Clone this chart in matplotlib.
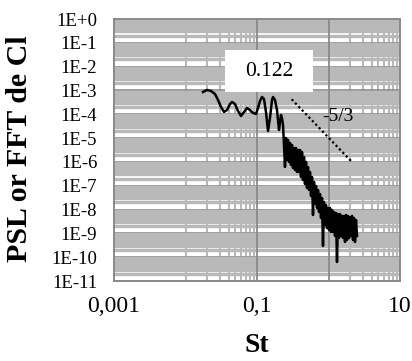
import matplotlib
matplotlib.use("Agg")
import matplotlib.pyplot as plt
from matplotlib.patches import Rectangle
from matplotlib.ticker import NullFormatter

# spectrum (St, PSD)
st = [0.01757, 0.0200, 0.02273, 0.02586, 0.02849, 0.03138, 0.03455, 0.03806, 0.04193,
      0.04471, 0.04925, 0.05424, 0.05974, 0.06579, 0.07247, 0.07982, 0.08791, 0.09683,
      0.1033, 0.1101, 0.1175, 0.1253, 0.1336, 0.1425, 0.1520, 0.1621, 0.1674, 0.1786,
      0.1904, 0.2031, 0.2098, 0.2166, 0.2237, 0.2311,
      0.2386, 0.2464, 0.2545, 0.2628, 0.2714, 0.2803, 0.2895, 0.2989, 0.3087, 0.3188,
      0.3293, 0.3400, 0.3512, 0.3627, 0.3745, 0.3868, 0.3994, 0.4125, 0.4260, 0.4399,
      0.4543, 0.4692, 0.4845, 0.5004, 0.5168, 0.5337, 0.5511, 0.5692, 0.5878, 0.6070,
      0.6269, 0.6474, 0.6686, 0.6905, 0.7131, 0.7364, 0.7605, 0.7854, 0.8111, 0.8376,
      0.8650, 0.8934, 0.9226, 0.9528, 0.9840, 1.016, 1.049, 1.084, 1.119, 1.156,
      1.194, 1.233, 1.273, 1.315, 1.358, 1.402, 1.448, 1.496, 1.545, 1.595,
      1.647, 1.702, 1.757, 1.815, 1.874, 1.936, 1.999, 2.064, 2.132, 2.202,
      2.274, 2.348, 2.425, 2.505]
psd = [8.62e-4, 1.05e-3, 9.49e-4, 7.10e-4, 3.98e-4, 2.02e-4, 1.25e-4, 1.51e-4, 2.70e-4,
       3.28e-4, 2.70e-4, 1.37e-4, 8.47e-5, 1.25e-4, 1.83e-4, 1.51e-4, 1.13e-4, 1.03e-4,
       1.83e-4, 3.61e-4, 5.31e-4, 4.38e-4, 1.25e-4, 1.99e-5, 6.98e-5, 3.98e-4, 5.31e-4, 3.98e-4,
       1.51e-4, 2.19e-5, 4.74e-5, 9.33e-5, 6.98e-5, 3.55e-5,
       5.13e-6, 6.12e-7, 1.01e-5, 1.20e-6, 8.32e-6, 9.92e-7, 6.22e-6, 7.42e-7, 5.13e-6, 5.56e-7,
       3.84e-6, 4.58e-7, 3.84e-6, 3.77e-7, 3.17e-6, 3.77e-7, 3.17e-6, 2.33e-7, 2.61e-6, 1.74e-7,
       1.61e-6, 1.18e-7, 9.92e-7, 8.04e-8, 6.12e-7, 6.63e-8, 3.77e-7, 3.71e-8, 2.33e-7, 5.91e-9,
       1.44e-7, 1.71e-8, 9.75e-8, 1.16e-8, 6.63e-8, 7.90e-9, 4.50e-8, 4.42e-9, 3.06e-8, 2.95e-10,
       2.08e-8, 2.25e-9, 1.55e-8, 1.68e-9, 1.16e-8, 1.39e-9, 1.16e-8, 1.14e-9, 9.58e-9, 1.14e-9,
       7.90e-9, 7.76e-10, 7.17e-9, 6.29e-11, 6.51e-9, 6.40e-10, 6.51e-9, 7.76e-10, 5.37e-9, 6.40e-10,
       5.37e-9, 4.35e-10, 5.91e-9, 5.27e-10, 5.37e-9, 6.40e-10, 4.87e-9, 7.76e-10, 5.37e-9, 5.27e-10,
       4.42e-9, 4.35e-10, 3.64e-9, 7.76e-10]

# -5/3 reference slope
slope_st = [0.3057, 2.111]
slope_psd = [4.26e-4, 1.02e-6]

y_ticks = [1e0, 1e-1, 1e-2, 1e-3, 1e-4, 1e-5, 1e-6, 1e-7, 1e-8, 1e-9, 1e-10, 1e-11]
y_labels = ['1E+0', '1E-1', '1E-2', '1E-3', '1E-4', '1E-5', '1E-6', '1E-7', '1E-8',
            '1E-9', '1E-10', '1E-11']
x_ticks = [0.001, 0.1, 10]
x_labels = ['0,001', '0,1', '10']
x_minor = [0.01, 0.02, 0.03, 0.04, 0.05, 0.06, 0.07, 0.08, 0.09,
           2, 3, 4, 5, 6, 7, 8, 9]
x_major_lines = [0.1, 1]

plt.rcParams['font.family'] = ['Liberation Serif', 'DejaVu Serif']

fig = plt.figure(figsize=(4.12, 3.61), dpi=100)
ax = fig.add_axes([114/412, 1 - 281/361, 286/412, 262/361])
ax.set_xscale('log')
ax.set_yscale('log')
ax.set_xlim(0.001, 10)
ax.set_ylim(1e-11, 1)

light = '#b9b9b9'
dark = '#8a8a8a'

y_minor = [k * d for d in y_ticks[1:] for k in range(2, 10)]
ax.set_yticks(y_ticks)
ax.set_yticklabels(y_labels, fontsize=13.5)
ax.set_yticks(y_minor, minor=True)
ax.set_xticks(x_ticks)
ax.set_xticklabels(x_labels, fontsize=17)
ax.set_xticks(x_minor, minor=True)
ax.xaxis.set_minor_formatter(NullFormatter())
ax.yaxis.set_minor_formatter(NullFormatter())
ax.tick_params(which='both', length=0)
ax.tick_params(axis='y', pad=12)
ax.tick_params(axis='x', pad=11)

ax.set_axisbelow(True)
ax.grid(which='minor', axis='y', color=light, lw=2.4)
ax.grid(which='minor', axis='x', color=light, lw=1.5)
ax.grid(which='major', axis='y', color=dark, lw=1.2)
for xv in x_major_lines:
    ax.axvline(xv, color=dark, lw=1.3, zorder=0.6)

for s in ax.spines.values():
    s.set_color(dark)
    s.set_linewidth(1.4)

ax.plot(st, psd, color='black', lw=1.8, zorder=3)
ax.plot(slope_st, slope_psd, color='black', lw=1.6, linestyle=(0, (1, 1.2)), zorder=3)
ax.text(1.358, 7.69e-5, '-5/3', fontsize=14, ha='center', va='center', zorder=4)

ax.add_patch(Rectangle((0.388, 0.721), 0.308, 0.160, transform=ax.transAxes,
                       facecolor='white', edgecolor='none', zorder=4))
ax.text(0.542, 0.80, '0.122', transform=ax.transAxes, fontsize=15.5,
        ha='center', va='center', zorder=5)

fig.text(20/412, 1 - 149/361, 'PSL or FFT de Cl', rotation=90, fontsize=21.5,
         fontweight='bold', ha='center', va='center')
fig.text(257/412, 1 - 345/361, 'St', fontsize=20, fontweight='bold',
         ha='center', va='center')

fig.savefig('out.png', dpi=100)
